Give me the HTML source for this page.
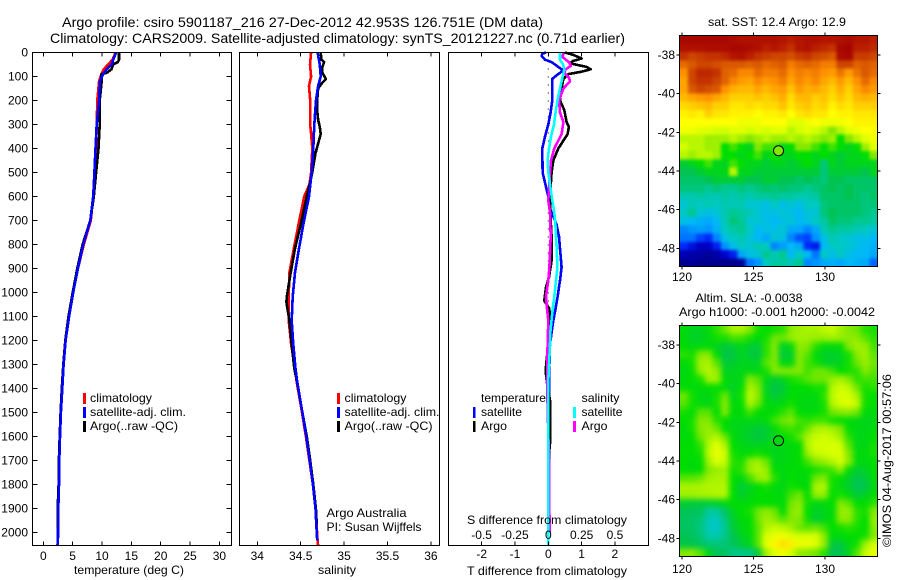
<!DOCTYPE html>
<html lang="en">
<head>
<meta charset="utf-8">
<title>Argo profile chart</title>
<style>
html,body{margin:0;padding:0;background:#fff;width:900px;height:580px;overflow:hidden}
svg{display:block}
text{font-family:"Liberation Sans",Arial,sans-serif;font-size:12px;fill:#000}
.t14{font-size:14px}
.frame{fill:none;stroke:#000;stroke-width:1;shape-rendering:crispEdges}
.tick{stroke:#000;stroke-width:1;shape-rendering:crispEdges}
.pl{fill:none;stroke-width:2.6;stroke-linejoin:round;shape-rendering:crispEdges}
</style>
</head>
<body>
<svg id="chart" xmlns="http://www.w3.org/2000/svg" width="900" height="580" viewBox="0 0 900 580">
<defs>
<filter id="soft-sst" filterUnits="userSpaceOnUse" x="660" y="15" width="240" height="270" color-interpolation-filters="sRGB">
<feGaussianBlur stdDeviation="1.5"/>
<feComponentTransfer><feFuncA type="linear" slope="4"/></feComponentTransfer>
</filter>
<filter id="soft-sla" filterUnits="userSpaceOnUse" x="660" y="305" width="240" height="270" color-interpolation-filters="sRGB">
<feGaussianBlur stdDeviation="3"/>
<feComponentTransfer><feFuncA type="linear" slope="4"/></feComponentTransfer>
</filter>
<clipPath id="clip-sst"><rect x="679.5" y="35.5" width="198" height="231"/></clipPath>
<clipPath id="clip-sla"><rect x="679.5" y="325.5" width="198" height="231"/></clipPath>
</defs>
<rect width="900" height="580" fill="#fff"/>
<text class="t14" x="62" y="27" textLength="481" lengthAdjust="spacingAndGlyphs">Argo profile: csiro 5901187_216 27-Dec-2012 42.953S 126.751E (DM data)</text>
<text class="t14" x="50" y="43" textLength="575" lengthAdjust="spacingAndGlyphs">Climatology: CARS2009. Satellite-adjusted climatology: synTS_20121227.nc (0.71d earlier)</text>

<g id="panel-t"></g>
<g id="panel-s"></g>
<g id="panel-d"></g>
<g id="map-sst"></g>
<g id="map-sla"></g>

<text x="74" y="574" textLength="110" lengthAdjust="spacingAndGlyphs">temperature (deg C)</text>
<text x="318" y="574" textLength="38" lengthAdjust="spacingAndGlyphs">salinity</text>
<text x="467" y="575" textLength="160" lengthAdjust="spacingAndGlyphs">T difference from climatology</text>
<text x="467" y="524" textLength="160" lengthAdjust="spacingAndGlyphs">S difference from climatology</text>

<g>
<rect x="83" y="393" width="3" height="11" fill="#f00"/>
<rect x="83" y="407" width="3" height="11" fill="#00f"/>
<rect x="83" y="421" width="3" height="11" fill="#000"/>
<text x="90" y="402" textLength="62" lengthAdjust="spacingAndGlyphs">climatology</text>
<text x="90" y="416" textLength="96" lengthAdjust="spacingAndGlyphs">satellite-adj. clim.</text>
<text x="90" y="430" textLength="88" lengthAdjust="spacingAndGlyphs">Argo(..raw -QC)</text>
</g>
<g>
<rect x="337" y="393" width="3" height="11" fill="#f00"/>
<rect x="337" y="407" width="3" height="11" fill="#00f"/>
<rect x="337" y="421" width="3" height="11" fill="#000"/>
<text x="344.5" y="402" textLength="62" lengthAdjust="spacingAndGlyphs">climatology</text>
<text x="344.5" y="416" textLength="95" lengthAdjust="spacingAndGlyphs">satellite-adj. clim.</text>
<text x="344.5" y="430" textLength="88" lengthAdjust="spacingAndGlyphs">Argo(..raw -QC)</text>
</g>
<text x="326.5" y="517" textLength="80" lengthAdjust="spacingAndGlyphs">Argo Australia</text>
<text x="326.5" y="531" textLength="95" lengthAdjust="spacingAndGlyphs">PI: Susan Wijffels</text>
<g>
<text x="481" y="402" textLength="65" lengthAdjust="spacingAndGlyphs">temperature</text>
<text x="481" y="416" textLength="41" lengthAdjust="spacingAndGlyphs">satellite</text>
<text x="481" y="430" textLength="26" lengthAdjust="spacingAndGlyphs">Argo</text>
<rect x="473" y="407" width="2.5" height="11" fill="#00f"/>
<rect x="473" y="421" width="2.5" height="11" fill="#000"/>
<text x="581.5" y="402" textLength="38" lengthAdjust="spacingAndGlyphs">salinity</text>
<text x="581.5" y="416" textLength="41" lengthAdjust="spacingAndGlyphs">satellite</text>
<text x="581.5" y="430" textLength="26" lengthAdjust="spacingAndGlyphs">Argo</text>
<rect x="573" y="407" width="3" height="11" fill="#0ff"/>
<rect x="573" y="421" width="3" height="11" fill="#f0f"/>
</g>

<text x="708" y="26" textLength="138" lengthAdjust="spacingAndGlyphs">sat. SST: 12.4 Argo: 12.9</text>
<text x="695.5" y="302" textLength="107" lengthAdjust="spacingAndGlyphs">Altim. SLA: -0.0038</text>
<text x="679" y="316" textLength="196" lengthAdjust="spacingAndGlyphs">Argo h1000: -0.001 h2000: -0.0042</text>
<text transform="translate(891,547) rotate(-90)" textLength="173" lengthAdjust="spacingAndGlyphs">©IMOS 04-Aug-2017 00:57:06</text>
</svg>

<script>
// ---------- profile data (depth in m) ----------
const tempDepthsShallow = [0,30,50,70,90,120,200,300,400,500,600,700,800,900,1000,1100,1200,1300,1400,1500,1600,1700,1800,1900,2000,2054];
const tempClim = [12.3,11.8,11.0,10.3,9.9,9.5,9.2,9.1,9.0,8.7,8.5,8.1,6.9,5.9,5.1,4.4,3.8,3.45,3.24,3.0,2.85,2.73,2.67,2.56,2.5,2.42];
const tempSat  = [12.4,11.9,11.65,10.8,10.2,9.65,9.5,9.1,8.9,8.7,8.5,8.0,6.8,5.9,5.1,4.4,3.8,3.45,3.24,3.0,2.85,2.73,2.67,2.56,2.5,2.48];
const tempArgoDepths = [0,30,40,50,70,85,90,120,200,300,400,500,600,700,800,900,1000,1100,1200,1300,1400,1500,1600,1700,1800,1900,2000];
const tempArgo = [12.9,12.9,12.7,11.9,11.6,10.8,9.9,9.95,9.6,9.6,9.4,9.0,8.6,8.0,6.7,5.8,5.0,4.3,3.75,3.4,3.15,2.95,2.8,2.65,2.6,2.45,2.45];

const salClimDepths = [0,50,100,140,200,300,340,400,500,550,600,700,817,917,1017,1117,1217,1317,1367,1500,1600,1700,1800,1900,2033,2054];
const salClim = [34.62,34.607,34.62,34.596,34.61,34.61,34.62,34.634,34.62,34.6,34.54,34.484,34.42,34.37,34.362,34.362,34.39,34.435,34.452,34.515,34.56,34.6,34.64,34.67,34.695,34.7];
const salSatDepths = [0,50,100,140,200,300,400,500,600,717,817,917,1017,1117,1217,1317,1367,1500,1600,1700,1800,1900,1967,2033];
const salSat = [34.695,34.72,34.73,34.70,34.676,34.657,34.645,34.627,34.596,34.53,34.48,34.434,34.408,34.396,34.415,34.44,34.457,34.52,34.565,34.604,34.64,34.67,34.68,34.69];
const salArgoDepths = [0,30,40,60,85,110,130,150,200,240,280,310,340,380,420,500,600,717,817,917,1017,1040,1117,1217,1317,1367,1500,1600,1700,1800,1900,1967];
const salArgo = [34.73,34.74,34.77,34.75,34.75,34.79,34.74,34.70,34.69,34.69,34.70,34.72,34.73,34.70,34.67,34.634,34.57,34.5,34.434,34.385,34.34,34.335,34.37,34.396,34.426,34.455,34.52,34.57,34.61,34.645,34.675,34.685];

const diffTSatDepths = [0,5,15,30,40,55,70,80,95,110,150,200,250,300,350,400,500,560,600,650,717,767,817,895,950,1017,1067,1117,1167,1217,1367,2000];
const diffTSat = [-0.07,-0.18,-0.2,-0.1,0.1,0.25,0.4,0.4,0.25,0.12,0.12,0.12,0.07,0,-0.1,-0.18,-0.17,-0.07,0,0.05,0.25,0.32,0.35,0.4,0.35,0.28,0.22,0.15,0.1,0.05,0.02,0.02];
const diffTArgoDepths = [0,10,25,35,45,60,70,80,90,110,150,200,240,290,310,340,400,450,500,600,667,767,867,936,978,1034,1067,1117,1167,1325,1367,1450,1630,1700];
const diffTArgo = [0.5,0.75,1.0,0.75,0.65,1.15,1.27,1.0,0.6,0.45,0.4,0.35,0.48,0.55,0.62,0.58,0.3,0.15,0.1,0.05,0.06,0.1,0.1,0.02,-0.07,-0.12,0.03,0.06,0.03,-0.08,-0.05,0.05,0.05,0];
const diffSSatDepths = [0,30,50,70,100,150,200,250,300,350,400,450,500,550,617,667,717,817,895,950,1017,1067,1167,1217,1367,2054];
const diffSSat = [0.088,0.088,0.11,0.12,0.108,0.088,0.068,0.055,0.043,0.02,0.005,-0.005,0,0.013,0.03,0.045,0.053,0.063,0.068,0.058,0.045,0.033,0.015,0.013,0,0];
const diffSArgoDepths = [0,20,40,55,70,85,105,120,150,200,250,290,340,400,450,500,617,667,767,895,950,1017,1067,1117,1217,1367,1700,2000];
const diffSArgo = [0.113,0.108,0.155,0.17,0.13,0.12,0.155,0.163,0.113,0.08,0.088,0.113,0.1,0.045,0.02,0.013,0,0.013,0.018,0.008,0,-0.017,-0.01,0,-0.005,-0.01,0.005,0.01];

// ---------- tick labels ----------
const depthTicks = [0,100,200,300,400,500,600,700,800,900,1000,1100,1200,1300,1400,1500,1600,1700,1800,1900,2000];
const tempTicks = [0,5,10,15,20,25,30];
const salTicks = [34,34.5,35,35.5,36];
const tDiffTicks = [-2,-1,0,1,2];
const sDiffTickLabels = ['-0.5','-0.25','0','0.25','0.5'];
const sDiffTicks = [-0.5,-0.25,0,0.25,0.5];
const lonTicks = [120,125,130];
const latTicks = [-38,-40,-42,-44,-46,-48];

// ---------- map data (rows north to south) ----------
const sstRow00=[158,158,158,158,158,158,157,156,156,156,156,156,155,154,155,156,156,155,155,156,157,155,155,154];
const sstRow01=[156,156,156,157,157,157,158,158,157,156,154,155,154,152,155,156,154,153,152,158,159,154,154,153];
const sstRow02=[152,150,151,152,152,153,155,156,154,152,151,150,150,149,151,152,150,149,148,157,158,151,151,150];
const sstRow03=[146,148,150,150,149,148,148,148,147,148,146,147,148,144,146,147,146,144,144,150,150,147,148,147];
const sstRow04=[142,150,153,153,152,147,146,143,143,146,144,144,146,142,144,143,144,142,141,145,141,145,148,146];
const sstRow05=[140,150,152,152,150,147,143,141,140,143,141,142,144,140,143,141,143,140,138,141,138,142,146,143];
const sstRow06=[140,148,150,149,148,142,139,138,138,140,138,140,141,137,141,139,140,138,136,139,136,140,143,141];
const sstRow07=[138,140,141,142,140,138,136,136,136,137,136,137,139,135,138,138,136,137,135,137,135,138,139,138];
const sstRow08=[135,136,137,138,136,136,134,134,135,134,135,135,137,134,136,137,135,136,133,135,134,136,136,136];
const sstRow09=[133,134,133,136,134,134,133,133,133,132,133,133,134,132,134,135,134,134,132,133,133,134,134,134];
const sstRow10=[132,132,132,132,132,132,132,131,131,131,132,132,132,130,130,131,132,131,131,131,132,133,133,133];
const sstRow11=[131,131,130,130,129,129,130,130,129,130,129,130,130,128,129,130,129,128,126,128,130,131,132,132];
const sstRow12=[128,128,128,127,127,127,128,127,126,127,128,127,127,128,127,128,127,126,127,124,126,128,130,131];
const sstRow13=[129,128,128,127,127,124,125,124,123,126,125,125,123,124,126,126,125,124,125,124,123,124,127,130];
const sstRow14=[128,127,128,128,127,124,124,123,124,125,123,124,123,123,124,124,123,124,123,122,123,123,124,126];
const sstRow15=[122,123,124,125,123,123,125,124,123,123,122,123,123,122,123,124,123,119,123,122,123,123,123,123];
const sstRow16=[121,121,122,123,123,123,128,123,123,122,122,122,122,122,122,122,122,119,122,122,122,122,121,123];
const sstRow17=[120,120,120,121,122,122,122,122,121,121,122,122,121,121,120,121,120,119,121,121,120,120,120,120];
const sstRow18=[119,119,119,118,119,118,118,119,118,119,120,119,120,119,119,118,119,120,121,120,121,120,120,120];
const sstRow19=[116,116,117,116,116,117,116,117,116,117,117,118,117,117,116,116,117,120,120,120,121,120,119,120];
const sstRow20=[114,116,115,116,115,116,116,116,114,114,113,115,113,114,113,115,115,119,120,120,120,120,119,119];
const sstRow21=[115,118,114,113,114,116,118,117,116,114,113,113,114,113,112,114,114,119,121,120,120,120,119,118];
const sstRow22=[113,112,111,110,112,116,119,118,114,114,113,112,113,114,112,113,115,117,120,119,119,118,118,117];
const sstRow23=[107,108,109,108,111,115,117,118,115,112,113,113,114,110,110,107,110,116,118,117,117,116,115,114];
const sstRow24=[106,106,103,101,107,113,115,116,114,112,110,114,113,107,104,103,108,113,116,115,114,113,113,112];
const sstRow25=[101,98,95,95,100,108,113,115,114,116,115,107,109,112,110,101,99,112,115,115,114,113,112,111];
const sstRow26=[94,93,93,92,93,96,100,110,113,114,118,116,118,112,115,112,106,115,113,115,113,112,112,110];
const sstRow27=[91,92,91,91,91,91,91,92,106,108,115,117,117,116,118,107,108,110,111,110,112,111,110,105];
const sstRows=[sstRow00,sstRow01,sstRow02,sstRow03,sstRow04,sstRow05,sstRow06,sstRow07,sstRow08,sstRow09,sstRow10,sstRow11,sstRow12,sstRow13,sstRow14,sstRow15,sstRow16,sstRow17,sstRow18,sstRow19,sstRow20,sstRow21,sstRow22,sstRow23,sstRow24,sstRow25,sstRow26,sstRow27];

const slaRow00=[-4,-6,-6,-4,-1,2,7,7,3,-2,-3,-2,-1,4,6,7,7,9,10,6,3,2,-1,-2];
const slaRow01=[-4,-7,-7,-5,-2,-2,0,0,-2,-4,-2,2,2,5,6,6,5,5,6,5,4,4,1,-1];
const slaRow02=[-3,-5,-4,-4,-6,-9,-8,-5,-8,-9,-1,3,-7,-4,4,3,-1,-4,-4,-3,3,6,5,0];
const slaRow03=[-1,-2,3,4,-3,-11,-10,-6,-9,-10,-1,3,-9,-8,3,1,-4,-7,-8,-6,-2,4,6,1];
const slaRow04=[-4,-2,6,7,1,-9,-8,-6,-6,-7,1,3,-5,-5,3,0,-2,-6,-7,-6,-2,2,5,2];
const slaRow05=[-5,-3,5,8,5,-6,-6,-5,-5,-5,-2,3,3,3,3,0,2,2,0,-3,-2,-1,3,1];
const slaRow06=[-4,-3,-2,6,6,-4,-6,-5,3,1,-5,-8,-6,-2,-1,1,2,2,5,7,3,-1,0,0];
const slaRow07=[-3,-4,-4,-3,-3,-4,-7,-3,7,3,-6,-11,-9,-4,-3,-3,-2,-2,8,11,9,2,-2,-1];
const slaRow08=[2,-2,-5,-5,-2,2,-6,-2,9,4,-5,-9,-7,-3,-4,-4,-4,-1,9,13,12,7,-2,-3];
const slaRow09=[1,-2,-4,-5,-2,4,-4,-3,7,2,-4,-5,-4,-2,-4,-5,-5,-2,8,12,14,10,-2,-3];
const slaRow10=[-2,-3,1,1,-3,3,-4,-4,0,-3,-4,-3,-1,1,-3,-4,-3,-2,2,3,4,2,-4,-4];
const slaRow11=[-3,-2,3,3,-1,-3,-5,-5,-5,-5,-4,0,2,3,0,-1,0,0,-2,-3,-4,-5,-6,-5];
const slaRow12=[-4,-2,3,5,2,-3,-5,-6,-7,-9,-8,-4,-1,0,-1,2,7,8,6,3,-3,-5,-5,-4];
const slaRow13=[-4,-3,2,6,8,2,-4,-6,-8,-10,-8,-6,-3,-2,1,7,10,11,10,6,-1,-5,-5,-3];
const slaRow14=[-3,-3,-1,8,14,8,-3,-5,-6,-6,-5,-6,-5,-4,-3,8,12,12,13,11,1,-5,-5,-2];
const slaRow15=[-3,-3,-2,9,16,11,-2,-4,-3,-2,-3,-6,-5,-4,-3,5,10,11,13,13,3,-4,-4,-2];
const slaRow16=[-3,-4,-3,6,13,10,-1,-2,4,6,2,-5,-5,-4,-3,0,3,5,8,12,4,-4,-5,-3];
const slaRow17=[-3,-4,-3,3,5,6,-2,-1,5,8,5,-3,-5,-3,-4,-3,-2,-1,0,4,-3,-8,-7,-3];
const slaRow18=[1,1,2,6,7,7,-3,-5,0,5,6,-1,-5,-3,-4,-4,2,3,-2,-3,-7,-11,-9,-4];
const slaRow19=[7,7,7,8,8,8,-3,-9,-6,-3,-2,-4,-5,-2,-3,-4,7,8,-2,-5,-8,-13,-11,-5];
const slaRow20=[6,6,7,7,8,8,-3,-8,-5,-3,-3,-4,-4,0,2,-3,5,5,-3,-2,-4,-9,-7,-3];
const slaRow21=[-8,-9,-9,-8,-7,-5,-3,-4,-3,-3,-3,-3,-4,2,4,-2,-5,-4,-3,3,1,-3,-3,-1];
const slaRow22=[-12,-12,-13,-22,-22,-14,-6,-3,-2,2,4,2,-3,3,5,-3,-7,-6,-4,5,5,-1,-2,3];
const slaRow23=[-13,-14,-16,-26,-28,-18,-8,-4,-3,2,6,4,1,3,3,-2,-8,-6,-3,4,4,-1,-3,5];
const slaRow24=[-13,-14,-18,-27,-29,-20,-9,-5,-3,1,8,10,9,6,2,1,2,0,-3,-2,-1,-2,-3,4];
const slaRow25=[-12,-13,-16,-24,-25,-19,-11,-7,-4,1,12,16,17,14,12,13,12,4,-4,-4,-3,-3,-2,3];
const slaRow26=[-10,-11,-13,-16,-17,-16,-13,-9,-6,1,15,22,28,24,17,16,14,5,-9,-10,-5,-2,6,12];
const slaRow27=[3,4,1,-6,-12,-13,-19,-19,-18,-10,6,14,17,12,4,3,2,-1,-12,-12,-6,1,10,16];
const slaRows=[slaRow00,slaRow01,slaRow02,slaRow03,slaRow04,slaRow05,slaRow06,slaRow07,slaRow08,slaRow09,slaRow10,slaRow11,slaRow12,slaRow13,slaRow14,slaRow15,slaRow16,slaRow17,slaRow18,slaRow19,slaRow20,slaRow21,slaRow22,slaRow23,slaRow24,slaRow25,slaRow26,slaRow27];

const floatPosition = [126.751,-42.953];
const floatSstLevel = [126];
const floatSlaLevel = [-4.2];

// ---------- scales ----------
const SVGNS = 'http://www.w3.org/2000/svg';
const yDepth = d => 52.5 + 0.24 * d;
const xTemp = v => 43.3 + 5.87 * v;
const xSal = v => 257.3 + 86.8 * (v - 34);
const xTDiff = v => 548.3 + 33.3 * v;
const xSDiff = v => 548.3 + 133.3 * v;
const xLon = v => 682 + 14.3 * (v - 120);
const ySstLat = v => 55 + 19.33 * (-38 - v);
const ySlaLat = v => 345 + 19.33 * (-38 - v);

const colorStops = [[0,0,0,128],[.086,0,0,210],[.171,0,50,255],[.257,0,150,255],[.314,0,185,245],[.357,0,200,195],[.4,0,200,145],[.443,0,195,80],[.486,0,222,0],[.514,130,232,0],[.557,210,255,0],[.6,255,255,0],[.671,255,195,0],[.743,255,145,0],[.857,205,70,0],[.929,180,20,0],[1,160,0,0]];
function cmap(t){
  t = Math.max(0, Math.min(1, t));
  for (let i = 1; i < colorStops.length; i++) {
    const a = colorStops[i-1], b = colorStops[i];
    if (t <= b[0]) {
      const f = (t - a[0]) / (b[0] - a[0]);
      return 'rgb(' + [1,2,3].map(k => Math.round(a[k] + f * (b[k] - a[k]))).join(',') + ')';
    }
  }
  return 'rgb(160,0,0)';
}
const sstColor = v => cmap((v - 90) / 70);
const slaColor = v => cmap((v + 100) / 200);

function mk(tag, attrs, parent){
  const el = document.createElementNS(SVGNS, tag);
  for (const k in attrs) el.setAttribute(k, attrs[k]);
  parent.appendChild(el);
  return el;
}
function tick(parent, x1, y1, x2, y2){
  const el = mk('line', {x1, y1, x2, y2, class:'tick'}, parent);
  
  
  return el;
}
function label(parent, x, y, str, anchor){
  const el = mk('text', {x, y, 'text-anchor':anchor}, parent);
  el.textContent = str;
  
  
  return el;
}
function frame(parent, x, y, w, h){
  const el = mk('rect', {x, y, width:w, height:h, class:'frame'}, parent);
  
  
  return el;
}
function profile(parent, depths, values, xf, color, name){
  const pts = depths.map((d, i) => xf(values[i]).toFixed(1) + ',' + yDepth(d).toFixed(1)).join(' ');
  const el = mk('polyline', {points:pts, class:'pl', stroke:color}, parent);
  
  
  return el;
}

const TOP = 52.5, BOT = 545.5;

// temperature panel
const pT = document.getElementById('panel-t');
profile(pT, tempDepthsShallow, tempClim, xTemp, '#f00', 'temperature-climatology-line');
profile(pT, tempArgoDepths, tempArgo, xTemp, '#000', 'temperature-argo-line');
profile(pT, tempDepthsShallow, tempSat, xTemp, '#00f', 'temperature-satellite-line');
frame(pT, 32.5, TOP, 199, BOT - TOP);
depthTicks.forEach(d => {
  tick(pT, 32.5, yDepth(d), 37.5, yDepth(d));
  tick(pT, 231.5, yDepth(d), 226.5, yDepth(d));
  label(pT, 28, yDepth(d) + 4, String(d), 'end');
});
tempTicks.forEach(v => {
  tick(pT, xTemp(v), TOP, xTemp(v), TOP + 4);
  tick(pT, xTemp(v), BOT, xTemp(v), BOT - 4);
  label(pT, xTemp(v), 560, String(v), 'middle');
});

// salinity panel
const pS = document.getElementById('panel-s');
profile(pS, salClimDepths, salClim, xSal, '#f00', 'salinity-climatology-line');
profile(pS, salArgoDepths, salArgo, xSal, '#000', 'salinity-argo-line');
profile(pS, salSatDepths, salSat, xSal, '#00f', 'salinity-satellite-line');
frame(pS, 239.5, TOP, 200, BOT - TOP);
salTicks.forEach(v => {
  tick(pS, xSal(v), TOP, xSal(v), TOP + 4);
  tick(pS, xSal(v), BOT, xSal(v), BOT - 4);
  label(pS, xSal(v), 560, String(v), 'middle');
});

// difference panel
const pD = document.getElementById('panel-d');
const zero = mk('line', {x1:xTDiff(0), y1:TOP, x2:xTDiff(0), y2:BOT, stroke:'#000', 'stroke-width':1, 'stroke-dasharray':'1 7'}, pD);


profile(pD, diffTSatDepths, diffTSat, xTDiff, '#00f', 't-difference-satellite-line');
profile(pD, diffTArgoDepths, diffTArgo, xTDiff, '#000', 't-difference-argo-line');
profile(pD, diffSArgoDepths, diffSArgo, xSDiff, '#f0f', 's-difference-argo-line');
profile(pD, diffSSatDepths, diffSSat, xSDiff, '#0ff', 's-difference-satellite-line');
frame(pD, 448.5, TOP, 200, BOT - TOP);
tDiffTicks.forEach(v => {
  tick(pD, xTDiff(v), TOP, xTDiff(v), TOP + 4);
  tick(pD, xTDiff(v), BOT, xTDiff(v), BOT - 4);
  label(pD, xTDiff(v), 558, String(v), 'middle');
});
sDiffTicks.forEach((v, i) => {
  label(pD, xSDiff(v), 539, sDiffTickLabels[i], 'middle');
});

// maps
function drawMap(parent, rows, colorFn, x0, y0, w, h, yLat, circleFill, labelBaseline, name, softId, clipId){
  const clip = mk('g', {'clip-path':'url(#' + clipId + ')'}, parent);
  const soft = mk('g', {filter:'url(#' + softId + ')'}, clip);
  const nr = rows.length, nc = rows[0].length;
  rows.forEach((row, r) => {
    row.forEach((v, c) => {
      const cx = x0 + w * c / nc, cy = y0 + h * r / nr;
      const cell = mk('rect', {x:cx, y:cy, width:w/nc + 0.5, height:h/nr + 0.5, fill:colorFn(v), 'shape-rendering':'crispEdges'}, soft);
      
      
    });
  });
  frame(parent, x0, y0, w, h);
  lonTicks.forEach(v => {
    tick(parent, xLon(v), y0, xLon(v), y0 - 3);
    tick(parent, xLon(v), y0 + h, xLon(v), y0 + h + 3);
    label(parent, xLon(v), labelBaseline, String(v), 'middle');
  });
  latTicks.forEach(v => {
    tick(parent, x0, yLat(v), x0 - 3, yLat(v));
    tick(parent, x0 + w, yLat(v), x0 + w + 3, yLat(v));
    label(parent, 675, yLat(v) + 4, String(v), 'end');
  });
  const mark = mk('circle', {cx:xLon(floatPosition[0]), cy:yLat(floatPosition[1]), r:5, fill:circleFill, stroke:'#000', 'stroke-width':1}, parent);
  
  
}
drawMap(document.getElementById('map-sst'), sstRows, sstColor, 679.5, 35.5, 198, 231, ySstLat, sstColor(floatSstLevel[0]), 281, 'sst', 'soft-sst', 'clip-sst');
drawMap(document.getElementById('map-sla'), slaRows, slaColor, 679.5, 325.5, 198, 231, ySlaLat, slaColor(floatSlaLevel[0]), 573, 'sla', 'soft-sla', 'clip-sla');
</script>
</body>
</html>
